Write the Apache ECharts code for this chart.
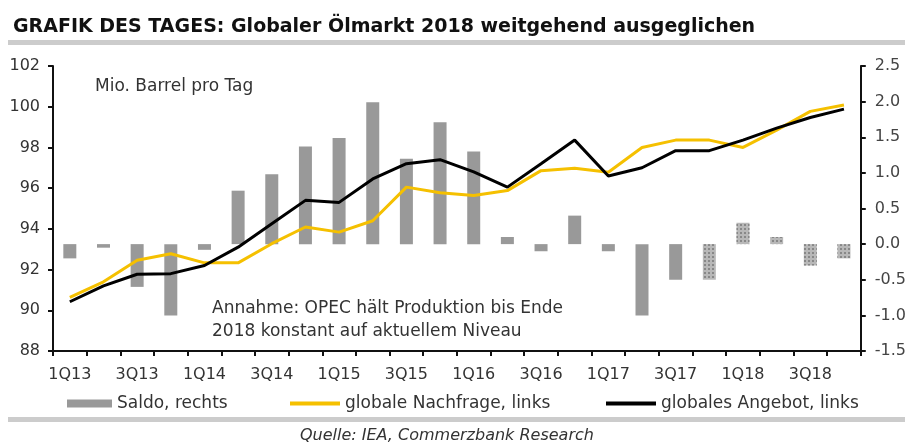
<!DOCTYPE html>
<html>
<head>
<meta charset="utf-8">
<script src="https://cdn.jsdelivr.net/npm/echarts@6/dist/echarts.min.js"></script>
<style>
  html, body { margin: 0; padding: 0; background: #fff; }
  #chart { width: 909px; height: 444px; }
</style>
</head>
<body>
<div id="chart"></div>
<script>
// quarters 1Q13 .. 4Q18
const quarters = [
  '1Q13', '2Q13', '3Q13', '4Q13', '1Q14', '2Q14', '3Q14', '4Q14',
  '1Q15', '2Q15', '3Q15', '4Q15', '1Q16', '2Q16', '3Q16', '4Q16',
  '1Q17', '2Q17', '3Q17', '4Q17', '1Q18', '2Q18', '3Q18', '4Q18'
];
// Saldo (right axis), from 4Q17 on = forecast (hatched)
const saldo = [-0.2, -0.05, -0.6, -1.0, -0.08, 0.75, 0.98, 1.37, 1.49, 1.99, 1.2, 1.71,
  1.3, 0.1, -0.1, 0.4, -0.1, -1.0, -0.5, -0.5, 0.3, 0.1, -0.3, -0.2];
const forecastStart = 19;
// globale Nachfrage (left axis)
const demand = [90.63, 91.4, 92.46, 92.78, 92.33, 92.33, 93.27, 94.09, 93.84, 94.4, 96.05, 95.77,
  95.64, 95.88, 96.86, 96.98, 96.78, 98.0, 98.36, 98.36, 98.0, 98.85, 99.77, 100.08];
// globales Angebot (left axis)
const supply = [90.42, 91.2, 91.77, 91.8, 92.2, 93.1, 94.25, 95.4, 95.3, 96.45, 97.2, 97.4,
  96.8, 96.05, 97.2, 98.36, 96.6, 97.0, 97.84, 97.84, 98.36, 98.95, 99.47, 99.88];

const FONT = 'DejaVu Sans';
const chart = echarts.init(document.getElementById('chart'), null, { renderer: 'canvas' });

const legendText = { fontFamily: FONT, fontSize: 17, color: '#333' };

const option = {
  animation: false,
  textStyle: { fontFamily: FONT },
  title: {
    text: 'GRAFIK DES TAGES: Globaler Ölmarkt 2018 weitgehend ausgeglichen',
    left: 8, top: 13,
    textStyle: { fontFamily: FONT, fontSize: 19, fontWeight: 'bold', color: '#111' }
  },
  grid: { left: 53, right: 47, top: 66, bottom: 93 },
  legend: [
    { data: ['Saldo, rechts'], left: 67, top: 395, icon: 'rect', itemWidth: 45, itemHeight: 8,
      itemGap: 0, textStyle: legendText, padding: 0 },
    { data: ['globale Nachfrage, links'], left: 290, top: 395, icon: 'rect', itemWidth: 50, itemHeight: 4,
      textStyle: legendText, padding: 0 },
    { data: ['globales Angebot, links'], left: 606, top: 395, icon: 'rect', itemWidth: 50, itemHeight: 4,
      textStyle: legendText, padding: 0 }
  ],
  xAxis: {
    type: 'category',
    data: quarters,
    boundaryGap: true,
    axisLine: { onZero: false, lineStyle: { color: '#111', width: 2 } },
    axisTick: { show: true, interval: 0, length: 5, lineStyle: { color: '#111', width: 2 } },
    axisLabel: { interval: 1, margin: 16, fontSize: 16, color: '#333', fontFamily: FONT }
  },
  yAxis: [
    {
      type: 'value', min: 88, max: 102, interval: 2, position: 'left',
      splitLine: { show: false },
      axisLine: { show: true, lineStyle: { color: '#111', width: 2 } },
      axisTick: { show: true, length: 5, lineStyle: { color: '#111', width: 2 } },
      axisLabel: { margin: 13, fontSize: 16, color: '#333', fontFamily: FONT }
    },
    {
      type: 'value', min: -1.5, max: 2.5, interval: 0.5, position: 'right',
      splitLine: { show: false },
      axisLine: { show: true, lineStyle: { color: '#111', width: 2 } },
      axisTick: { show: true, length: 5, lineStyle: { color: '#111', width: 2 } },
      axisLabel: { margin: 14, fontSize: 16, color: '#444', fontFamily: FONT,
        formatter: v => v.toFixed(1) }
    }
  ],
  series: [
    {
      name: 'Saldo, rechts',
      type: 'bar',
      yAxisIndex: 1,
      barWidth: 13,
      z: 1,
      itemStyle: { color: '#999999' },
      data: saldo.map((v, i) => i >= forecastStart ? {
        value: v,
        itemStyle: {
          color: '#b8b8b8',
          decal: { symbol: 'rect', symbolSize: 1, dashArrayX: [2, 2], dashArrayY: [2, 2], color: '#888888' }
        }
      } : v)
    },
    {
      name: 'globale Nachfrage, links',
      type: 'line',
      yAxisIndex: 0,
      symbol: 'none',
      z: 3,
      itemStyle: { color: '#f5c000' },
      lineStyle: { color: '#f5c000', width: 3 },
      data: demand
    },
    {
      name: 'globales Angebot, links',
      type: 'line',
      yAxisIndex: 0,
      symbol: 'none',
      z: 4,
      itemStyle: { color: '#000' },
      lineStyle: { color: '#000', width: 3 },
      data: supply
    }
  ],
  graphic: [
    { type: 'rect', left: 8, top: 40, shape: { width: 897, height: 5 }, style: { fill: '#cccccc' } },
    { type: 'rect', left: 8, top: 417, shape: { width: 897, height: 5 }, style: { fill: '#cccccc' } },
    { type: 'text', left: 95, top: 78,
      style: { text: 'Mio. Barrel pro Tag', font: '17px "DejaVu Sans"', fill: '#333' } },
    { type: 'text', left: 212, top: 297,
      style: { text: 'Annahme: OPEC hält Produktion bis Ende\n2018 konstant auf aktuellem Niveau',
        font: '17px "DejaVu Sans"', lineHeight: 23, fill: '#333' } },
    { type: 'text', left: 300, top: 428,
      style: { text: 'Quelle: IEA, Commerzbank Research', font: 'italic 16px "DejaVu Sans"', fill: '#333' } }
  ]
};

chart.setOption(option);
</script>
</body>
</html>
